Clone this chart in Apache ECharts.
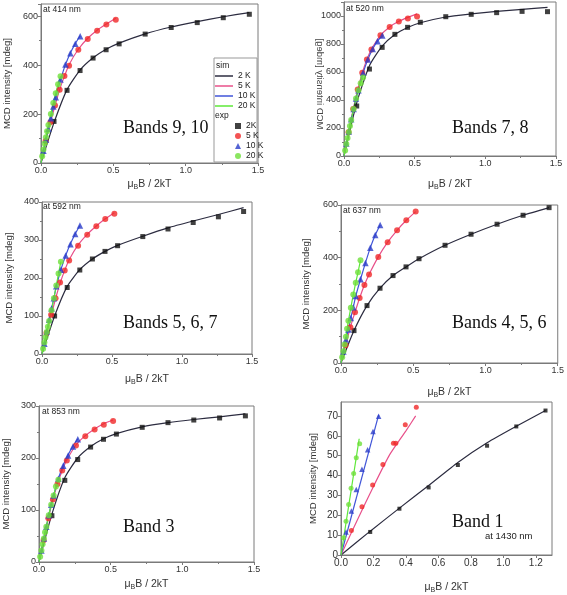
<!DOCTYPE html>
<html><head><meta charset="utf-8">
<script src="https://cdn.jsdelivr.net/npm/echarts@6/dist/echarts.min.js"></script>
<style>html,body{margin:0;padding:0;background:#fff}#c{width:567px;height:595px}</style>
</head><body><div id="c"></div>
<script>
// ---- common x values (μB·B / 2kT) of the measured points ----
const X2  = [0.09,0.18,0.27,0.36,0.45,0.54,0.72,0.90,1.08,1.26,1.44];
const X5  = [0.032,0.065,0.097,0.129,0.162,0.194,0.258,0.323,0.388,0.452,0.517];
const X10 = [0.017,0.034,0.051,0.068,0.085,0.102,0.135,0.169,0.203,0.237,0.271];
const X20 = [0.008,0.017,0.025,0.034,0.042,0.051,0.068,0.085,0.102,0.118,0.135];
const SX2  = [0].concat(X2);
const SX5  = [0].concat(X5);
const SX10 = [0].concat(X10);
const SX20 = [0].concat(X20);

// ---- Bands 9, 10 (414 nm) ----
const b910_exp2  = [170,297,378,429,463,487,527,554,574,594,608];
const b910_sim2  = [0,165,300,380,430,465,490,528,556,578,598,615];
const b910_exp5  = [90,167,235,299,356,398,463,507,541,566,586];
const b910_sim5  = [0,88,165,235,300,355,402,465,510,543,568,592];
const b910_exp10 = [50,95,140,183,231,269,341,403,449,487,518];
const b910_sim10 = [0,48,95,140,185,228,270,340,402,450,488,520];
const b910_exp20 = [28,55,80,105,130,155,200,245,285,322,355];
const b910_sim20 = [0,28,55,80,106,131,156,201,245,286,322,356];

// ---- Bands 7, 8 (520 nm) ----
const b78_exp2  = [357,621,776,869,919,955,995,1012,1024,1033,1031];
const b78_sim2  = [0,380,645,785,868,918,952,993,1015,1033,1048,1062];
const b78_exp5  = [170,335,475,595,690,760,862,922,960,982,997];
const b78_sim5  = [0,168,333,472,592,690,762,862,922,962,990,1015];
const b78_exp10 = [90,175,262,335,410,470,595,690,765,820,860];
const b78_sim10 = [0,88,175,260,335,408,470,592,690,765,820,862];
const b78_exp20 = [40,85,128,172,215,258,335,410,470,520,560];
const b78_sim20 = [0,40,85,128,172,215,258,335,410,470,520,560];

// ---- Bands 5, 6, 7 (592 nm) ----
const b567_exp2  = [100,175,221,250,270,285,309,329,346,361,375];
const b567_sim2  = [0,100,178,222,250,270,286,310,332,350,367,385];
const b567_exp5  = [55,103,147,188,220,246,285,314,336,355,369];
const b567_sim5  = [0,52,100,146,186,220,248,287,315,337,356,372];
const b567_exp10 = [27,59,90,120,147,178,222,259,289,316,338];
const b567_sim10 = [0,28,58,89,119,148,177,222,259,290,316,338];
const b567_exp20 = [14,30,44,58,72,87,115,147,180,212,243];
const b567_sim20 = [0,14,30,44,58,72,87,115,147,180,212,243];

// ---- Bands 4, 5, 6 (637 nm) ----
const b456_exp2  = [123,218,284,332,365,396,447,489,527,561,590];
const b456_sim2  = [0,123,218,284,332,365,396,447,489,527,561,590];
const b456_exp5  = [67,136,193,247,296,336,403,459,504,542,575];
const b456_sim5  = [0,67,136,193,247,296,336,403,459,504,542,575];
const b456_exp10 = [44,89,127,171,212,254,318,380,438,486,524];
const b456_sim10 = [0,44,89,127,171,212,254,318,380,438,486,524];
const b456_exp20 = [22,45,70,100,130,160,210,260,305,345,390];
const b456_sim20 = [0,22,45,70,100,130,160,210,260,305,345,390];

// ---- Band 3 (853 nm) ----
const b3_exp2  = [89,157,197,221,236,246,259,268,273,277,281];
const b3_sim2  = [0,92,162,200,222,237,247,260,268,274,279,285];
const b3_exp5  = [42,84,120,150,176,195,224,242,255,264,271];
const b3_sim5  = [0,42,83,120,150,176,196,225,243,256,266,273];
const b3_exp10 = [22,45,68,90,110,128,160,185,205,222,236];
const b3_sim10 = [0,22,45,68,90,110,128,160,186,206,223,237];
const b3_exp20 = [10,22,34,45,57,68,90,110,128,145,158];
const b3_sim20 = [0,10,22,34,45,57,68,90,110,128,145,158];

// ---- Band 1 (1430 nm) ----
const b1_x2    = [0.18,0.36,0.54,0.72,0.90,1.08,1.26];
const b1_exp2  = [11.6,23.3,34,45.3,55,64.7,72.7];
const b1_sx2   = [0,0.18,0.36,0.54,0.72,0.90,1.08,1.26];
const b1_sim2  = [0,12,23.6,35,46.6,56.5,64.8,72.7];
const b1_x5    = [0.064,0.129,0.195,0.258,0.323,0.338,0.396,0.464];
const b1_exp5  = [12.3,24.3,35.2,45.6,56.2,56.2,65.6,74.3];
const b1_sx5   = [0,0.1,0.2,0.3,0.4,0.46];
const b1_sim5  = [0,17.5,34.5,50.5,62.5,70];
const b1_x10   = [0.031,0.064,0.094,0.129,0.164,0.197,0.232];
const b1_exp10 = [11.6,22.1,33,43.1,53,62.1,69.8];
const b1_sx10  = [0,0.232];
const b1_sim10 = [0,70.5];
const b1_x20   = [0.016,0.031,0.047,0.062,0.078,0.094,0.115];
const b1_exp20 = [8.7,17,25.4,33.6,41,49,56];
const b1_sx20  = [0,0.112];
const b1_sim20 = [0,58.5];

// ---- labels ----
const SIM_NAMES = ['2 K','5 K','10 K','20 K'];
const EXP_NAMES = ['2K','5 K ','10 K ','20 K '];
const PANEL_TITLES = ['Bands 9, 10','Bands 7, 8','Bands 5, 6, 7','Bands 4, 5, 6','Band 3','Band 1'];
const WAVELENGTHS = ['at 414 nm','at 520 nm','at 592 nm','at 637 nm','at 853 nm','at 1430 nm'];
const Y_NAME = 'MCD intensity [mdeg]';
const X_NAME = '{a|μ}{b|B}{a|B / 2kT}';

const SIM_COLORS = ['#2c2c40','#e8508a','#4055d8','#5ee838'];
const EXP_COLORS = ['#111111','#f02828','#2a3cc8','#6ee03a'];
const EXP_SYMBOLS = ['rect','circle','triangle','circle'];

const zip = (a,b) => a.map((v,i)=>[v,b[i]]);

const panelData = [
  {sim:[[SX2,b910_sim2],[SX5,b910_sim5],[SX10,b910_sim10],[SX20,b910_sim20]],
   exp:[[X2,b910_exp2],[X5,b910_exp5],[X10,b910_exp10],[X20,b910_exp20]]},
  {sim:[[SX2,b78_sim2],[SX5,b78_sim5],[SX10,b78_sim10],[SX20,b78_sim20]],
   exp:[[X2,b78_exp2],[X5,b78_exp5],[X10,b78_exp10],[X20,b78_exp20]]},
  {sim:[[SX2,b567_sim2],[SX5,b567_sim5],[SX10,b567_sim10],[SX20,b567_sim20]],
   exp:[[X2,b567_exp2],[X5,b567_exp5],[X10,b567_exp10],[X20,b567_exp20]]},
  {sim:[[SX2,b456_sim2],[SX5,b456_sim5],[SX10,b456_sim10],[SX20,b456_sim20]],
   exp:[[X2,b456_exp2],[X5,b456_exp5],[X10,b456_exp10],[X20,b456_exp20]]},
  {sim:[[SX2,b3_sim2],[SX5,b3_sim5],[SX10,b3_sim10],[SX20,b3_sim20]],
   exp:[[X2,b3_exp2],[X5,b3_exp5],[X10,b3_exp10],[X20,b3_exp20]]},
  {sim:[[b1_sx2,b1_sim2],[b1_sx5,b1_sim5],[b1_sx10,b1_sim10],[b1_sx20,b1_sim20]],
   exp:[[b1_x2,b1_exp2],[b1_x5,b1_exp5],[b1_x10,b1_exp10],[b1_x20,b1_exp20]]}
];

// ---- layout ----
const layout = [
  {grid:{left:41,top:4,width:217,height:159},  xmax:1.5, xint:0.5, ymax:650, yint:200, xgap:15, ygap:29, minor:true, fs:9, ms:5},
  {grid:{left:344,top:2,width:212,height:154}, xmax:1.5, xint:0.5, ymax:1100,yint:200, xgap:22, ygap:0,  minor:true, fs:9, ms:5, mirrorY:true},
  {grid:{left:42,top:202,width:210,height:152},xmax:1.5, xint:0.5, ymax:400, yint:100, xgap:19, ygap:28, minor:true, fs:9, ms:5},
  {grid:{left:341,top:205,width:218,height:158},xmax:1.5,xint:0.5, ymax:600, yint:200, xgap:23, ygap:30, minor:true, fs:9, ms:5},
  {grid:{left:39,top:406,width:215,height:156},xmax:1.5, xint:0.5, ymax:300, yint:100, xgap:16, ygap:28, minor:true, fs:9, ms:5},
  {grid:{left:341,top:402,width:211,height:156},xmax:1.3,xint:0.2, ymax:77,  yint:10,  xgap:26, ygap:23, minor:false, fs:10, ms:4}
];
const titlePos = [[123,128],[452,128],[123,323],[452,323],[123,527],[452,522]];
const wavePos  = [[43,10],[346,9],[43,207],[343,211],[42,412],[485,536]];

const axisCol = '#7a7a7a';
const grids=[], xAxes=[], yAxes=[], series=[], graphics=[];
layout.forEach((L,i)=>{
  grids.push(Object.assign({show:true,borderColor:axisCol,borderWidth:1,containLabel:false}, L.grid));
  xAxes.push({gridIndex:i,type:'value',min:0,max:L.xmax,interval:L.xint,
    axisLine:{show:true,onZero:false,lineStyle:{color:axisCol}},
    axisTick:{show:true,length:3,lineStyle:{color:axisCol}},
    minorTick:{show:L.minor,splitNumber:2,length:2,lineStyle:{color:axisCol}},
    splitLine:{show:false},
    axisLabel:{fontSize:L.fs,color:'#333',margin:3,fontFamily:'Liberation Sans',
      showMaxLabel: (Math.round(L.xmax/L.xint*1000)%1000===0),
      formatter:v=>v.toFixed(1)},
    name:X_NAME,nameLocation:'middle',nameGap:L.xgap,
    nameTextStyle:{color:'#333',fontFamily:'Liberation Sans',
      rich:{a:{fontSize:10.5,color:'#333',fontFamily:'Liberation Sans'},
            b:{fontSize:7,color:'#333',fontFamily:'Liberation Sans',padding:[6,0,0,0]}}}
  });
  yAxes.push({gridIndex:i,type:'value',min:0,max:L.ymax,interval:L.yint,
    axisLine:{show:true,onZero:false,lineStyle:{color:axisCol}},
    axisTick:{show:true,length:3,lineStyle:{color:axisCol}},
    minorTick:{show:L.minor,splitNumber:2,length:2,lineStyle:{color:axisCol}},
    splitLine:{show:false},
    axisLabel:{fontSize:L.fs,color:'#333',margin:3,fontFamily:'Liberation Sans',
      showMaxLabel:(L.ymax%L.yint===0), formatter:v=>String(v)},
    name:L.mirrorY?'':Y_NAME,nameLocation:'middle',nameGap:L.ygap,nameRotate:90,
    nameTextStyle:{fontSize:9.5,color:'#333',fontFamily:'Liberation Sans'}
  });
  const P = panelData[i];
  P.sim.forEach((s,k)=>{
    series.push({type:'line',name:SIM_NAMES[k],xAxisIndex:i,yAxisIndex:i,
      data:zip(s[0],s[1]),symbol:'none',smooth:0.2,z:2,
      lineStyle:{color:SIM_COLORS[k],width:1.2},itemStyle:{color:SIM_COLORS[k]}});
  });
  P.exp.forEach((s,k)=>{
    series.push({type:'scatter',name:EXP_NAMES[k],xAxisIndex:i,yAxisIndex:i,
      data:zip(s[0],s[1]),symbol:EXP_SYMBOLS[k],
      symbolSize: k===0?L.ms: (k===2?L.ms+1.5:L.ms+1),z:3,
      itemStyle:{color:EXP_COLORS[k]}});
  });
  graphics.push({type:'text',x:titlePos[i][0],y:titlePos[i][1],
    style:{text:PANEL_TITLES[i],fontFamily:'Liberation Serif',fontSize:18,fill:'#111',align:'left',verticalAlign:'middle'}});
  graphics.push({type:'text',x:wavePos[i][0],y:wavePos[i][1],
    style:{text:WAVELENGTHS[i],fontFamily:'Liberation Sans',fontSize:i===5?9.5:8.5,fill:'#222',align:'left',verticalAlign:'middle'}});
});
// mirrored y label of the top-right panel
graphics.push({type:'text',x:320,y:84,rotation:-Math.PI/2,scaleX:-1,
  style:{text:Y_NAME,fontFamily:'Liberation Sans',fontSize:9.5,fill:'#444',align:'center',verticalAlign:'middle'}});
// legend frame and headers (panel 1)
graphics.push({type:'rect',shape:{x:214,y:58,width:43,height:104},style:{fill:'#fff',stroke:'#999',lineWidth:1},z:5});
graphics.push({type:'text',x:216,y:66,z:6,style:{text:'sim',fontFamily:'Liberation Sans',fontSize:8.5,fill:'#222',verticalAlign:'middle'}});
graphics.push({type:'text',x:215,y:116,z:6,style:{text:'exp',fontFamily:'Liberation Sans',fontSize:8.5,fill:'#222',verticalAlign:'middle'}});

const option = {
  animation:false,
  backgroundColor:'#fff',
  grid:grids, xAxis:xAxes, yAxis:yAxes, series:series, graphic:graphics,
  legend:[
    {data:SIM_NAMES,orient:'vertical',left:215,top:71,padding:0,icon:'rect',itemWidth:18,itemHeight:1.5,itemGap:0,z:10,
      textStyle:{fontSize:8.5,lineHeight:10,color:'#222',fontFamily:'Liberation Sans'},formatter:n=>n.trim(),selectedMode:false},
    {data:EXP_NAMES,orient:'vertical',left:235,top:121,padding:0,itemWidth:6,itemHeight:6,itemGap:0,z:10,
      textStyle:{fontSize:8.5,lineHeight:10,color:'#222',fontFamily:'Liberation Sans'},formatter:n=>n.trim(),selectedMode:false}
  ]
};
const chart = echarts.init(document.getElementById('c'),null,{renderer:'canvas'});
chart.setOption(option);
</script></body></html>
